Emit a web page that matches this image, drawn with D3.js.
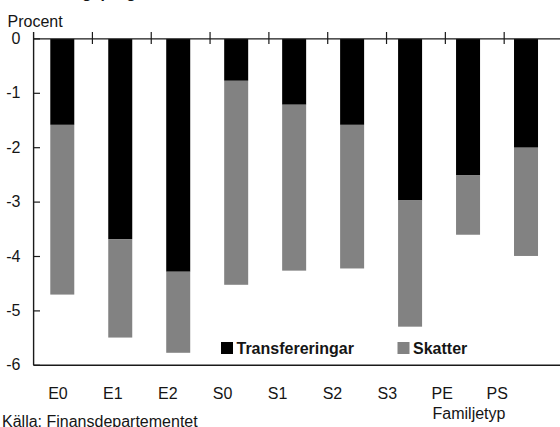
<!DOCTYPE html>
<html lang="sv">
	<head>
		<meta charset="utf-8">
		<title>Transfereringar och skatter per familjetyp</title>
		<script type="text/javascript" src="https://cdn.jsdelivr.net/npm/d3@7"></script>
		<style type="text/css">
			html, body { margin: 0; padding: 0; background: #fff; overflow: hidden; }
			svg { display: block; }
			text { font-family: "Liberation Sans", Arial, sans-serif; fill: #151515; }
		</style>
	</head>
	<body>
		<script type="text/javascript">

			//Width and height
			var w = 560;
			var h = 427;

			//Data
			var categories = ["E0", "E1", "E2", "S0", "S1", "S2", "S3", "PE", "PS"];
			var transfereringar = [-1.58, -3.68, -4.28, -0.77, -1.21, -1.58, -2.97, -2.51, -2.00];
			var skatter = [-3.12, -1.81, -1.49, -3.75, -3.05, -2.64, -2.32, -1.09, -1.99];
			var yTicks = [0, -1, -2, -3, -4, -5, -6];

			//Scales (bars, top ticks and labels are slightly out of step in the original)
			var xScale = d3.scaleBand()
						   .domain(categories)
						   .range([33.3, 555])
						   .paddingInner(0.586)
						   .paddingOuter(0.293);

			var tickScale = d3.scaleBand()
						   .domain(categories)
						   .range([33.6, 563]);

			var labelScale = d3.scaleBand()
						   .domain(categories)
						   .range([30.5, 524.6]);

			var yScale = d3.scaleLinear()
						   .domain([-6, 0])
						   .range([365.3, 38.9]);

			var svg = d3.select("body")
						.append("svg")
						.attr("width", w)
						.attr("height", h);

			//Title, mostly above the picture
			var title = svg.append("text")
			   .attr("y", -2)
			   .attr("font-size", "16px")
			   .attr("font-weight", "bold")
			   .text("Effekter av saneringsprogrammet");
			var off = title.node().getSubStringLength(0, 12);
			title.attr("x", 25 - off);

			//Stacked bars
			var stacked = categories.map(function(c, i) {
				return { cat: c, t: transfereringar[i], s: skatter[i] };
			});

			svg.selectAll("rect.trans")
			   .data(stacked)
			   .enter()
			   .append("rect")
			   .attr("class", "trans")
			   .attr("x", function(d) { return xScale(d.cat); })
			   .attr("y", yScale(0))
			   .attr("width", xScale.bandwidth())
			   .attr("height", function(d) { return yScale(d.t) - yScale(0); })
			   .attr("fill", "#000");

			svg.selectAll("rect.skatt")
			   .data(stacked)
			   .enter()
			   .append("rect")
			   .attr("class", "skatt")
			   .attr("x", function(d) { return xScale(d.cat); })
			   .attr("y", function(d) { return yScale(d.t); })
			   .attr("width", xScale.bandwidth())
			   .attr("height", function(d) { return yScale(d.t + d.s) - yScale(d.t); })
			   .attr("fill", "#828282");

			//Axis lines
			var axisCol = "#1a1a1a";
			svg.append("line")
			   .attr("x1", 33.6).attr("x2", w)
			   .attr("y1", yScale(0)).attr("y2", yScale(0))
			   .attr("stroke", axisCol).attr("stroke-width", 1.4);
			svg.append("line")
			   .attr("x1", 33.6).attr("x2", w)
			   .attr("y1", yScale(-6)).attr("y2", yScale(-6))
			   .attr("stroke", axisCol).attr("stroke-width", 1.4);
			svg.append("line")
			   .attr("x1", 33.6).attr("x2", 33.6)
			   .attr("y1", 32).attr("y2", yScale(-6))
			   .attr("stroke", axisCol).attr("stroke-width", 1.4);

			//Top ticks between categories
			svg.selectAll("line.xtick")
			   .data(categories.slice(1))
			   .enter()
			   .append("line")
			   .attr("class", "xtick")
			   .attr("x1", function(d) { return tickScale(d); })
			   .attr("x2", function(d) { return tickScale(d); })
			   .attr("y1", 32).attr("y2", 44)
			   .attr("stroke", axisCol).attr("stroke-width", 1.2);

			//Y ticks and labels
			svg.selectAll("line.ytick")
			   .data(yTicks)
			   .enter()
			   .append("line")
			   .attr("class", "ytick")
			   .attr("x1", 33.6).attr("x2", 40)
			   .attr("y1", function(d) { return yScale(d); })
			   .attr("y2", function(d) { return yScale(d); })
			   .attr("stroke", axisCol).attr("stroke-width", 1.2);

			svg.selectAll("text.ylab")
			   .data(yTicks)
			   .enter()
			   .append("text")
			   .attr("class", "ylab")
			   .attr("x", 20.5)
			   .attr("y", function(d) { return yScale(d) + 5; })
			   .attr("text-anchor", "end")
			   .attr("font-size", "16px")
			   .text(function(d) { return d; });

			svg.append("text")
			   .attr("x", 7.5).attr("y", 26.5)
			   .attr("font-size", "16px")
			   .text("Procent");

			//Category labels
			svg.selectAll("text.xlab")
			   .data(categories)
			   .enter()
			   .append("text")
			   .attr("class", "xlab")
			   .attr("x", function(d) { return labelScale(d) + labelScale.bandwidth() / 2; })
			   .attr("y", 399)
			   .attr("text-anchor", "middle")
			   .attr("font-size", "16px")
			   .text(function(d) { return d; });

			svg.append("text")
			   .attr("x", 469).attr("y", 419)
			   .attr("text-anchor", "middle")
			   .attr("font-size", "16px")
			   .text("Familjetyp");

			svg.append("text")
			   .attr("x", 2).attr("y", 427)
			   .attr("font-size", "16px")
			   .text("Källa: Finansdepartementet");

			//Legend
			var legend = [
				{ name: "Transfereringar", col: "#000", x: 221 },
				{ name: "Skatter", col: "#828282", x: 397.5 }
			];
			var lg = svg.selectAll("g.legend")
			   .data(legend)
			   .enter()
			   .append("g")
			   .attr("class", "legend")
			   .attr("transform", function(d) { return "translate(" + d.x + ",342)"; });
			lg.append("rect")
			  .attr("width", 12).attr("height", 12)
			  .attr("fill", function(d) { return d.col; });
			lg.append("text")
			  .attr("x", 15.5).attr("y", 11.5)
			  .attr("font-size", "16px")
			  .attr("font-weight", "bold")
			  .text(function(d) { return d.name; });

		</script>
	</body>
</html>
